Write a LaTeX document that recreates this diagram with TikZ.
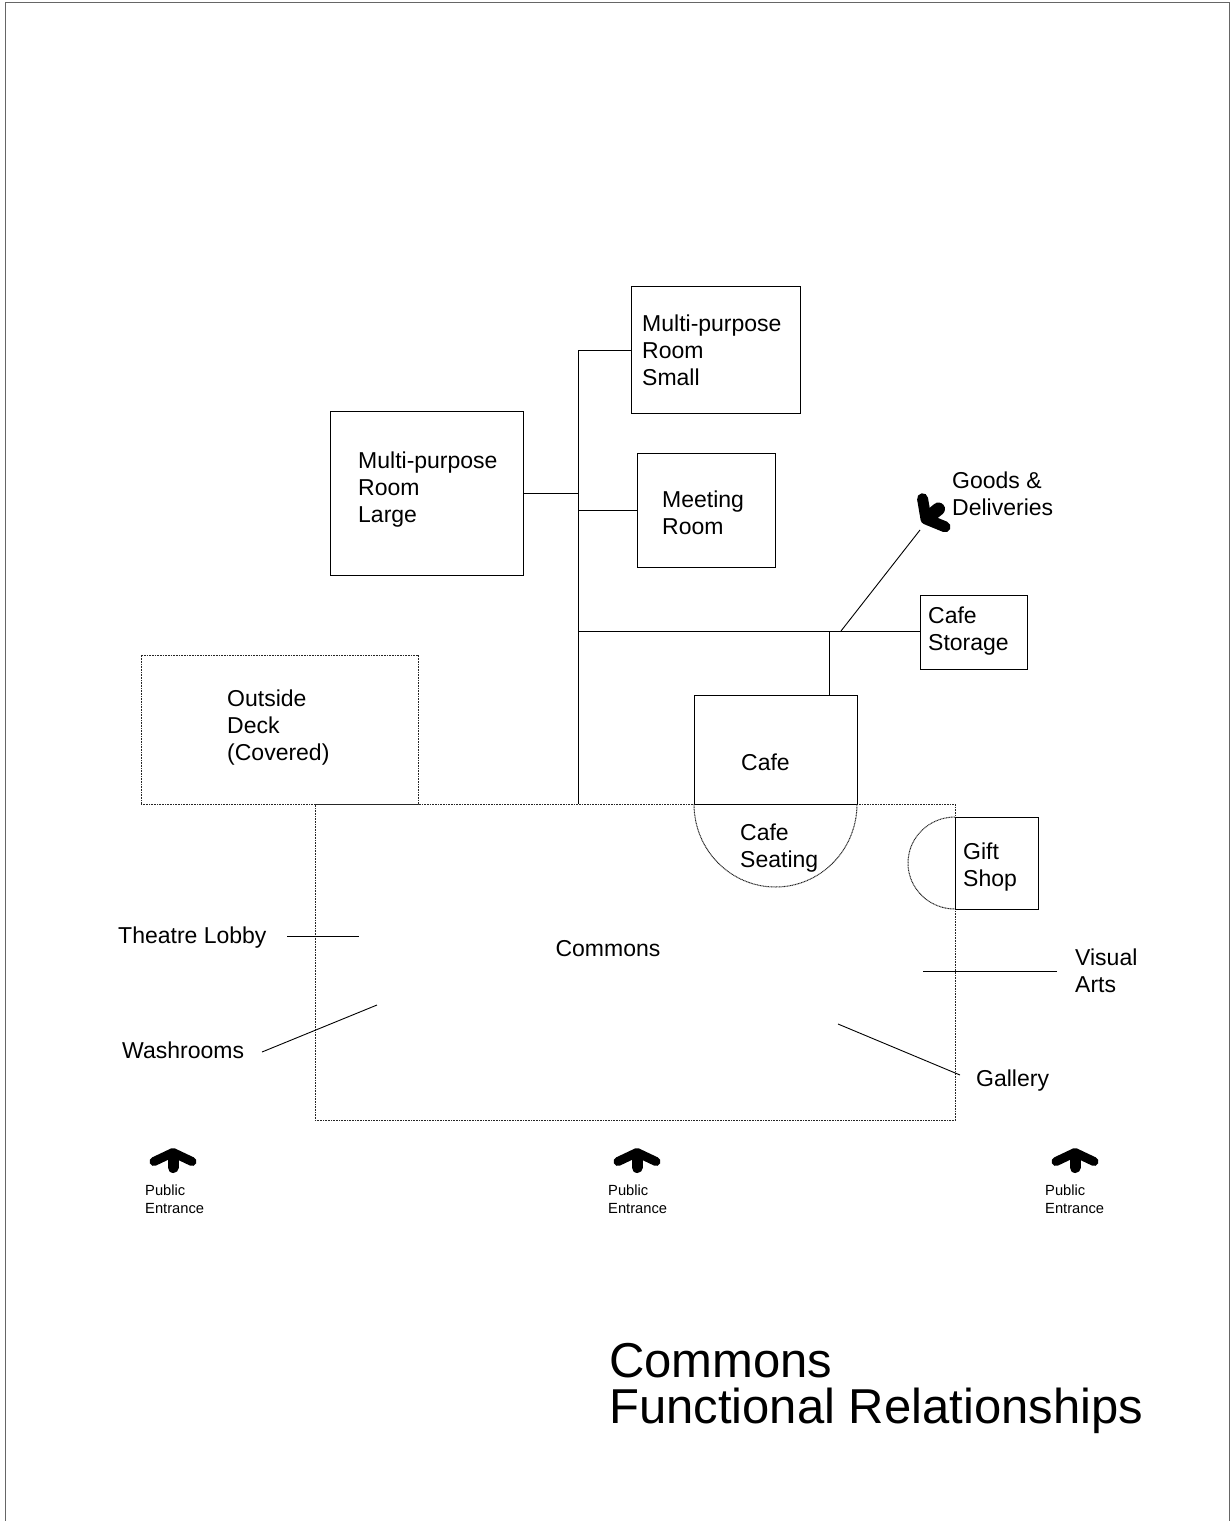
\documentclass[tikz,border=0pt]{standalone}
\usepackage{fontspec}
\setmainfont{Liberation Sans}
\usetikzlibrary{calc}
\begin{document}
\begin{tikzpicture}[x=1pt,y=-1pt,
  room/.style={draw=black, line width=0.9pt, inner sep=0pt, outer sep=0pt},
  zone/.style={draw=black!85, line width=1pt, dash pattern=on 1pt off 0.6pt, inner sep=0pt, outer sep=0pt},
  link/.style={draw=black, line width=0.9pt},
  lbl/.style={font=\fontsize{23}{27}\selectfont, align=left, inner sep=0pt, anchor=west},
  small lbl/.style={font=\fontsize{14.7}{18}\selectfont, align=left, inner sep=0pt, anchor=west},
  title/.style={font=\fontsize{49}{46}\selectfont, align=left, inner sep=0pt, anchor=north west},
  doorarrow/.pic={
    \draw[line width=9pt, line cap=round, line join=round] (-19,9) -- (0,0) -- (19,9);
    \draw[line width=11pt, line cap=round] (0,2) -- (0,15);
  },
  heavyarrow/.pic={
    \draw[line width=11pt, line cap=round, line join=round] (-18,10) -- (0,0) -- (18,10);
    \draw[line width=13pt, line cap=round] (0,2) -- (0,16);
  }]
\useasboundingbox (0,0) rectangle (1231,1521);

% sheet frame (open at the bottom)
\draw[black!60, line width=1.5pt] (5.5,1521) -- (5.5,2.5) -- (1229.5,2.5) -- (1229.5,1521);

% rooms
\node[room, minimum width=169pt, minimum height=127pt] (small)   at (715.5,349.5) {};
\node[room, minimum width=193pt, minimum height=164pt] (large)   at (426.5,493) {};
\node[room, minimum width=138pt, minimum height=114pt] (meeting) at (706,510) {};
\node[room, minimum width=107pt, minimum height=74pt]  (storage) at (973.5,632) {};
\node[zone, minimum width=277pt, minimum height=149pt] (deck)    at (279.5,729.5) {};
\node[zone, minimum width=640pt, minimum height=316pt] (commons) at (635,962) {};
\node[room, minimum width=163pt, minimum height=109pt] (cafe)    at (775.5,749.5) {};
\node[room, minimum width=83pt,  minimum height=92pt]  (gift)    at (996.5,863) {};

% seating areas
\draw[zone] (cafe.south west) arc[start angle=180, end angle=360, x radius=81.5pt, y radius=83pt];
\draw[zone] (gift.north west) arc[start angle=90, end angle=270, x radius=47pt, y radius=46pt];

% room labels
\node[lbl] (tsmall)   at (642,350)   {Multi-purpose\\Room\\Small};
\node[lbl] (tlarge)   at (358,490)   {Multi-purpose\\Room\\Large};
\node[lbl] (tmeeting) at (662,513)   {Meeting\\Room};
\node[lbl] (tstorage) at (928,631)   {Cafe\\Storage};
\node[lbl] (tgoods)   at (952,494)   {Goods \&\\Deliveries};
\node[lbl] (tdeck)    at (227,727.5) {Outside\\Deck\\(Covered)};
\node[lbl] (tcafe)    at (741,762)   {Cafe};
\node[lbl] (tseat)    at (740,848)   {Cafe\\Seating};
\node[lbl] (tgift)    at (963,867.5) {Gift\\Shop};
\node[lbl, anchor=center] (tcommons) at (608,949) {Commons};
\node[lbl] (tlobby)   at (118,938)   {Theatre Lobby};
\node[lbl] (twash)    at (122,1050)  {Washrooms};
\node[lbl] (tvisual)  at (1075,970.5) {Visual\\Arts};
\node[lbl] (tgallery) at (976,1081)  {Gallery};

% circulation spine and branches
\coordinate (j1) at (578,350);
\coordinate (j2) at (578,493);
\coordinate (j3) at (578,510);
\coordinate (j4) at (578,631);
\coordinate (j5) at (829,631);
\coordinate (j6) at (841,631);
\coordinate (goodsend) at (920,530);
\draw[link] (j1) -- (j1 |- commons.north);
\draw[link] (j1) -- (j1 -| small.west);
\draw[link] (large.east |- j2) -- (j2);
\draw[link] (j3) -- (j3 -| meeting.west);
\draw[link] (j4) -- (j4 -| storage.west);
\draw[link] (j5) -- (j5 |- cafe.north);
\draw[link] (j6) -- (goodsend);

% pointers from labels into the commons
\coordinate (lobbya) at (287,936);   \coordinate (lobbyb) at (359,936);
\coordinate (washa)  at (262,1052);  \coordinate (washb)  at (377,1005);
\coordinate (visa)   at (1057,971);  \coordinate (visb)   at (923,971);
\coordinate (gala)   at (960,1075);  \coordinate (galb)   at (838,1024);
\draw[link] (lobbya) -- (lobbyb);
\draw[link] (washa) -- (washb);
\draw[link] (visa) -- (visb);
\draw[link] (gala) -- (galb);

% deliveries arrow
\pic[rotate=128.7] at (926,519) {heavyarrow};

% public entrances
\pic at (173,1152.5) {doorarrow};
\pic at (637,1152.5) {doorarrow};
\pic at (1075,1152.5) {doorarrow};
\node[small lbl] (pe1) at (145,1199)  {Public\\Entrance};
\node[small lbl] (pe2) at (608,1199)  {Public\\Entrance};
\node[small lbl] (pe3) at (1045,1199) {Public\\Entrance};

% title
\node[title] (ttl) at (609,1343) {Commons\\Functional Relationships};
\end{tikzpicture}
\end{document}
